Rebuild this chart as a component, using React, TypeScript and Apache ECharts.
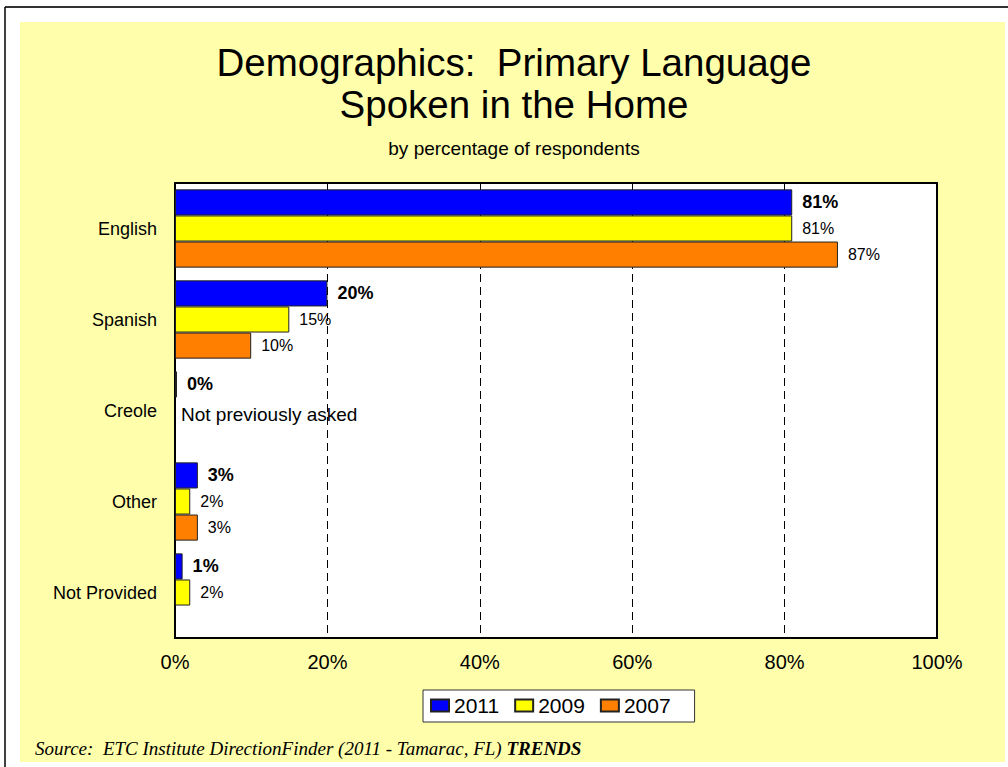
import React, { useEffect, useRef } from "react";
import * as echarts from "echarts";

const categories = ["English", "Spanish", "Creole", "Other", "Not Provided"];
const years = ["2011", "2009", "2007"];
const values2011: (number | null)[] = [81, 20, 0, 3, 1];
const values2009: (number | null)[] = [81, 15, null, 2, 2];
const values2007: (number | null)[] = [87, 10, null, 3, null];
const notes2009 = ["", "", "Not previously asked", "", ""];
const xTickStep = 20;
const xMax = 100;
const colors = ["#0000FF", "#FFFF00", "#FF8000"];

const titleLine = "Demographics:  Primary Language\nSpoken in the Home";
const subtitle = "by percentage of respondents";
const sourceText = "Source:  ETC Institute DirectionFinder (2011 - Tamarac, FL) ";
const sourceBold = "TRENDS";

export default function App() {
  const ref = useRef<HTMLDivElement>(null);

  useEffect(() => {
    document.body.style.margin = "0";
    if (!ref.current) return;
    const chart = echarts.init(ref.current, undefined, { renderer: "svg" });

    const font = "Liberation Sans, Arial, sans-serif";
    const baseLabel = {
      show: true,
      position: "right",
      distance: 10,
      color: "#000",
      fontFamily: font,
      fontSize: 16,
      formatter: "{c}%",
    };

    const data2009 = values2009.map((v, i) =>
      notes2009[i]
        ? {
            value: 0,
            itemStyle: { color: "transparent", borderWidth: 0 },
            label: {
              formatter: notes2009[i],
              fontSize: 19,
              distance: 6,
              offset: [0, 4],
            },
          }
        : v
    );

    const option: any = {
      animation: false,
      backgroundColor: "#ffffff",
      textStyle: { fontFamily: font },
      title: {
        text: titleLine,
        subtext: subtitle,
        left: 514,
        top: 41,
        textAlign: "center",
        padding: 0,
        itemGap: 12,
        textStyle: {
          fontFamily: font,
          fontSize: 38.5,
          fontWeight: "normal",
          color: "#000",
          lineHeight: 42,
        },
        subtextStyle: {
          fontFamily: font,
          fontSize: 19,
          color: "#000",
          lineHeight: 22,
        },
      },
      graphic: [
        {
          type: "rect",
          z: -10,
          shape: { x: 20, y: 22, width: 985, height: 740 },
          style: { fill: "#FFFFAB" },
        },
        {
          type: "line",
          z: -10,
          shape: { x1: 5, y1: 7, x2: 1008, y2: 7 },
          style: { stroke: "#333", lineWidth: 2 },
        },
        {
          type: "line",
          z: -10,
          shape: { x1: 5, y1: 7, x2: 5, y2: 767 },
          style: { stroke: "#000", lineWidth: 1.5 },
        },
        {
          type: "text",
          x: 35,
          y: 748,
          style: {
            text: "{a|" + sourceText + "}{b|" + sourceBold + "}",
            textVerticalAlign: "middle",
            rich: {
              a: {
                fontFamily: "Liberation Serif, Times New Roman, serif",
                fontStyle: "italic",
                fontSize: 19,
                fill: "#000",
              },
              b: {
                fontFamily: "Liberation Serif, Times New Roman, serif",
                fontStyle: "italic",
                fontWeight: "bold",
                fontSize: 19,
                fill: "#000",
              },
            },
          },
        },
      ],
      legend: {
        data: years,
        left: 423,
        top: 690,
        orient: "horizontal",
        icon: "rect",
        itemWidth: 18,
        itemHeight: 12,
        itemGap: 15,
        backgroundColor: "#ffffff",
        borderColor: "#333",
        borderWidth: 1,
        borderRadius: 0,
        padding: [5, 24, 6, 7],
        textStyle: { fontFamily: font, fontSize: 21, color: "#000" },
      },
      grid: {
        left: 175,
        top: 183,
        width: 762,
        height: 455,
        show: true,
        backgroundColor: "#ffffff",
        borderColor: "#000",
        borderWidth: 2,
        containLabel: false,
      },
      xAxis: {
        type: "value",
        min: 0,
        max: xMax,
        interval: xTickStep,
        axisLine: { show: false },
        axisTick: { show: false },
        axisLabel: {
          formatter: "{value}%",
          fontFamily: font,
          fontSize: 20,
          color: "#000",
          margin: 14,
        },
        splitLine: {
          show: true,
          lineStyle: { color: "#000", width: 1, type: [8, 5] },
        },
      },
      yAxis: {
        type: "category",
        data: categories,
        inverse: true,
        axisLine: { show: false },
        axisTick: { show: false },
        axisLabel: {
          fontFamily: font,
          fontSize: 18,
          color: "#000",
          margin: 18,
          padding: [4, 0, 0, 0],
        },
      },
      series: [
        {
          name: years[0],
          type: "bar",
          data: values2011,
          barGap: "0%",
          barCategoryGap: "14%",
          barMinHeight: 2,
          itemStyle: { color: colors[0], borderColor: "#222", borderWidth: 1 },
          label: { ...baseLabel, fontWeight: "bold", fontSize: 18 },
        },
        {
          name: years[1],
          type: "bar",
          data: data2009,
          barGap: "0%",
          barCategoryGap: "14%",
          itemStyle: { color: colors[1], borderColor: "#222", borderWidth: 1 },
          label: { ...baseLabel },
        },
        {
          name: years[2],
          type: "bar",
          data: values2007,
          barGap: "0%",
          barCategoryGap: "14%",
          itemStyle: { color: colors[2], borderColor: "#222", borderWidth: 1 },
          label: { ...baseLabel },
        },
      ],
    };

    chart.setOption(option);
    return () => {
      chart.dispose();
    };
  }, []);

  return <div ref={ref} style={{ width: 1008, height: 767 }} />;
}
